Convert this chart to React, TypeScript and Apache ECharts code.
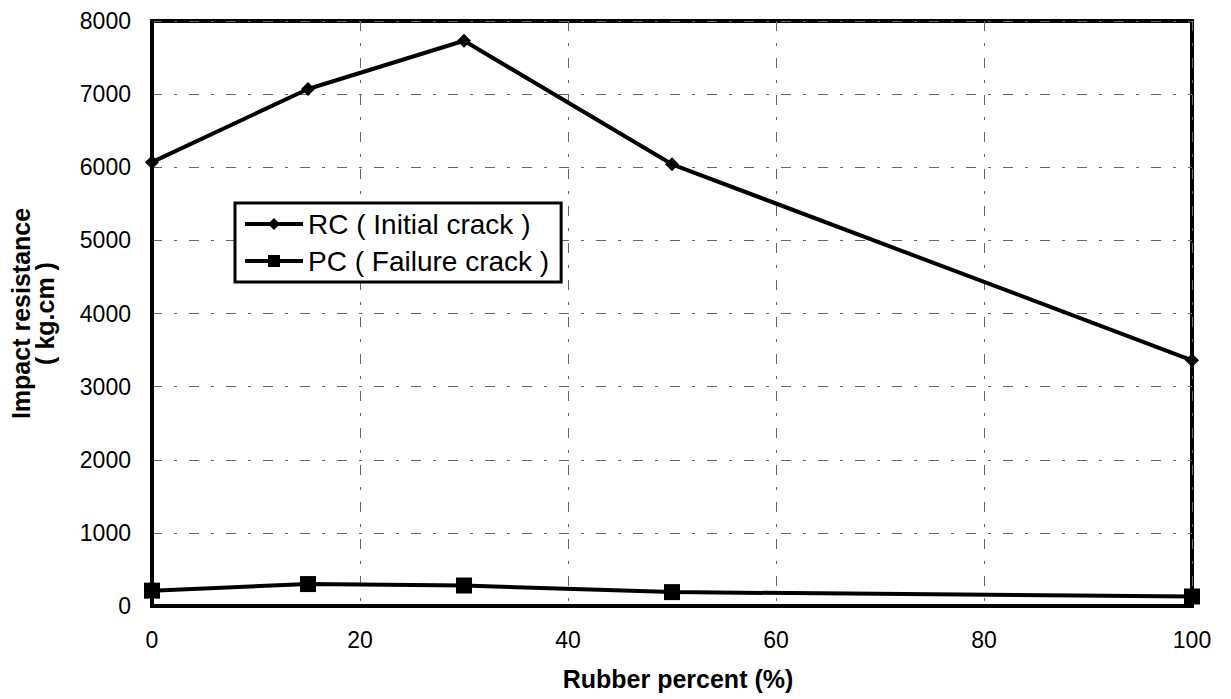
import React, { useEffect, useRef } from "react";
import * as echarts from "echarts";

const xValues = [0, 15, 30, 50, 100];
const rcValues = [6070, 7070, 7730, 6040, 3360];
const pcValues = [210, 300, 280, 190, 130];
const rcName = "RC ( Initial crack )";
const pcName = "PC ( Failure crack )";

export default function App() {
  const ref = useRef<HTMLDivElement>(null);
  useEffect(() => {
    if (!ref.current) return;
    const chart = echarts.init(ref.current, null, { renderer: "svg" });
    const font = "'Liberation Sans', Arial, sans-serif";
    const gridLine = { show: true, lineStyle: { color: "#666", width: 1, type: [10, 12, 3, 12] as any } };
    chart.setOption({
      animation: false,
      backgroundColor: "#fff",
      textStyle: { fontFamily: font },
      grid: {
        left: 152, right: 1231 - 1192, top: 21, bottom: 699 - 606,
        show: true, borderColor: "#000", borderWidth: 4, backgroundColor: "transparent",
      },
      legend: {
        orient: "vertical",
        left: 235, top: 203,
        data: [rcName, pcName],
        backgroundColor: "#fff",
        borderColor: "#000",
        borderWidth: 3,
        padding: [6, 12, 6, 8],
        itemGap: 7,
        itemWidth: 58,
        itemHeight: 15,
        lineStyle: { width: 4, color: "#000" },
        textStyle: { fontSize: 28, lineHeight: 30, color: "#000", fontFamily: font },
      },
      xAxis: {
        type: "value",
        min: 0, max: 100, interval: 20,
        name: "Rubber percent (%)",
        nameLocation: "middle",
        nameGap: 60,
        nameTextStyle: { fontSize: 25, fontWeight: "bold", color: "#000", fontFamily: font, padding: [0, 0, 0, 12] },
        axisLine: { show: true, lineStyle: { color: "#000", width: 4 } },
        axisTick: { show: false },
        axisLabel: { fontSize: 23, color: "#000", margin: 22, fontFamily: font, formatter: (v: number) => String(v) },
        splitLine: gridLine,
      },
      yAxis: {
        type: "value",
        min: 0, max: 8000, interval: 1000,
        name: "Impact resistance\n( kg.cm )",
        nameLocation: "middle",
        nameRotate: 90,
        nameGap: 95,
        nameTextStyle: { fontSize: 25, fontWeight: "bold", color: "#000", lineHeight: 24, fontFamily: font },
        axisLine: { show: true, lineStyle: { color: "#000", width: 4 } },
        axisTick: { show: false },
        axisLabel: { fontSize: 23, color: "#000", margin: 21, fontFamily: font, formatter: (v: number) => String(v) },
        splitLine: gridLine,
      },
      series: [
        {
          name: rcName,
          type: "line",
          data: xValues.map((x, i) => [x, rcValues[i]]),
          symbol: "diamond",
          symbolSize: 14,
          lineStyle: { color: "#000", width: 4 },
          itemStyle: { color: "#000" },
        },
        {
          name: pcName,
          type: "line",
          data: xValues.map((x, i) => [x, pcValues[i]]),
          symbol: "rect",
          symbolSize: 16,
          lineStyle: { color: "#000", width: 4 },
          itemStyle: { color: "#000" },
        },
      ],
    });
    return () => chart.dispose();
  }, []);
  return <div ref={ref} style={{ position: "fixed", left: 0, top: 0, width: 1231, height: 699 }} />;
}
